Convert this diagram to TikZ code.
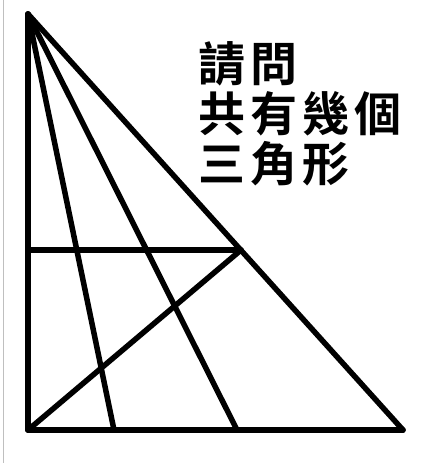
\documentclass[tikz,border=0pt]{standalone}
\usepackage{fontspec}
\newfontfamily\cjk{Noto Sans CJK TC}[BoldFont={Noto Sans CJK TC Bold}]
\begin{document}
\begin{tikzpicture}[x=1pt,y=-1pt]
	\tikzset{edge/.style={line width=5.5pt, line cap=round, line join=round}};
	\tikzset{hanzi/.style={inner sep=0pt, anchor=base, font=\cjk\bfseries\fontsize{47}{47}\selectfont}};
	\useasboundingbox[fill=white] (0,0) rectangle (436,463);
	\draw[black!25, line width=0.8pt] (3,0)--(3,463);
	\coordinate (Apex ) at ( 28, 14);
	\coordinate (Left ) at ( 28,430);
	\coordinate (Right) at (403,430);
	\coordinate (FootA) at (114,430);
	\coordinate (FootB) at (237,430);
	\coordinate (Side ) at ( 28,250);
	\coordinate (Hyp  ) at (241,250);
	\draw[edge] (Apex )--(Left );
	\draw[edge] (Left )--(Right);
	\draw[edge] (Right)--(Apex );
	\draw[edge] (Apex )--(FootA);
	\draw[edge] (Apex )--(FootB);
	\draw[edge] (Side )--(Hyp  );
	\draw[edge] (Left )--(Hyp  );
	% question text, one node per character
	\foreach \ch [count=\i from 0] in {請,問}
		\node[hanzi] (ask\i) at (222+52*\i,81) {\ch};
	\foreach \ch [count=\i from 0] in {共,有,幾,個}
		\node[hanzi] (num\i) at (222+52*\i,131) {\ch};
	\foreach \ch [count=\i from 0] in {三,角,形}
		\node[hanzi] (tri\i) at (222+52*\i,181) {\ch};
\end{tikzpicture}
\end{document}
